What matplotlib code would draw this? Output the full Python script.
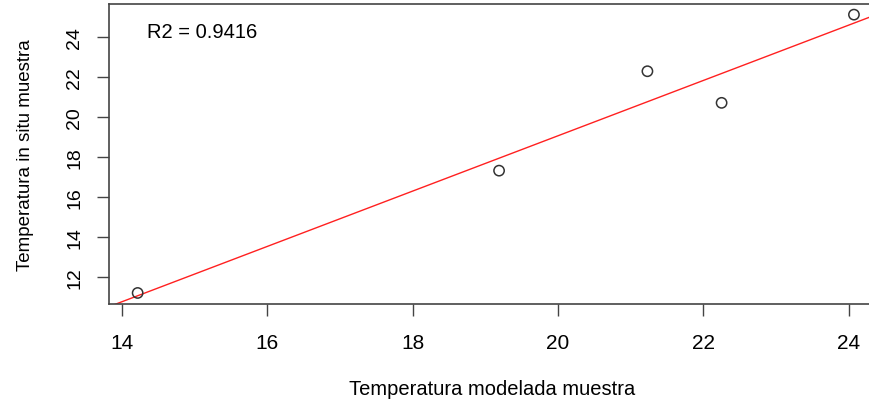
import numpy as np
import matplotlib
matplotlib.use("Agg")
import matplotlib.pyplot as plt

plt.rcParams['font.family'] = ['Liberation Sans', 'DejaVu Sans']

# Data
modelada = [14.22, 19.19, 21.23, 22.25, 24.07]
in_situ = [11.215, 17.33, 22.30, 20.72, 25.13]
x_ticks = [14, 16, 18, 20, 22, 24]
y_ticks = [12, 14, 16, 18, 20, 22, 24]
r2_label = "R2 = 0.9416"
xlabel = "Temperatura modelada muestra"
ylabel = "Temperatura in situ muestra"

x = np.array(modelada)
y = np.array(in_situ)

fig = plt.figure(figsize=(8.7, 4.06), dpi=100)
ax = fig.add_axes([109 / 870, 1 - 305.1 / 406, 773.6 / 870, 300.6 / 406])


def rlim(v):
    r = v.max() - v.min()
    return v.min() - 0.04 * r, v.max() + 0.04 * r


ax.set_xlim(*rlim(x))
ax.set_ylim(*rlim(y))

ax.scatter(x, y, s=55, facecolors='none', edgecolors='#333333', linewidths=1.1, zorder=3)

slope, intercept = np.polyfit(x, y, 1)
xx = np.array(ax.get_xlim())
ax.plot(xx, intercept + slope * xx, color='#ff2020', lw=1.0, zorder=2)

ax.text(14.35, 24.3, r2_label, fontsize=14.5, ha='left', va='center')

ax.set_xticks(x_ticks)
ax.set_yticks(y_ticks)
ax.tick_params(axis='both', direction='out', length=8.6, width=1.0, colors='#444444',
               labelcolor='black')
ax.tick_params(axis='x', labelsize=15, pad=12)
ax.tick_params(axis='y', labelsize=14, pad=10)
for lab in ax.get_yticklabels():
    lab.set_rotation(90)
    lab.set_va('center')

for s in ax.spines.values():
    s.set_color('#444444')
    s.set_linewidth(1.2)

# axis titles placed like R's mtext lines
fig.text(492 / 870, (406 - 395) / 406, xlabel, fontsize=14.5, ha='center', va='baseline')
fig.text(26 / 870, 1 - 155 / 406, ylabel, fontsize=13.5, ha='center', va='center',
         rotation=90)

fig.savefig("out.png", dpi=100)
